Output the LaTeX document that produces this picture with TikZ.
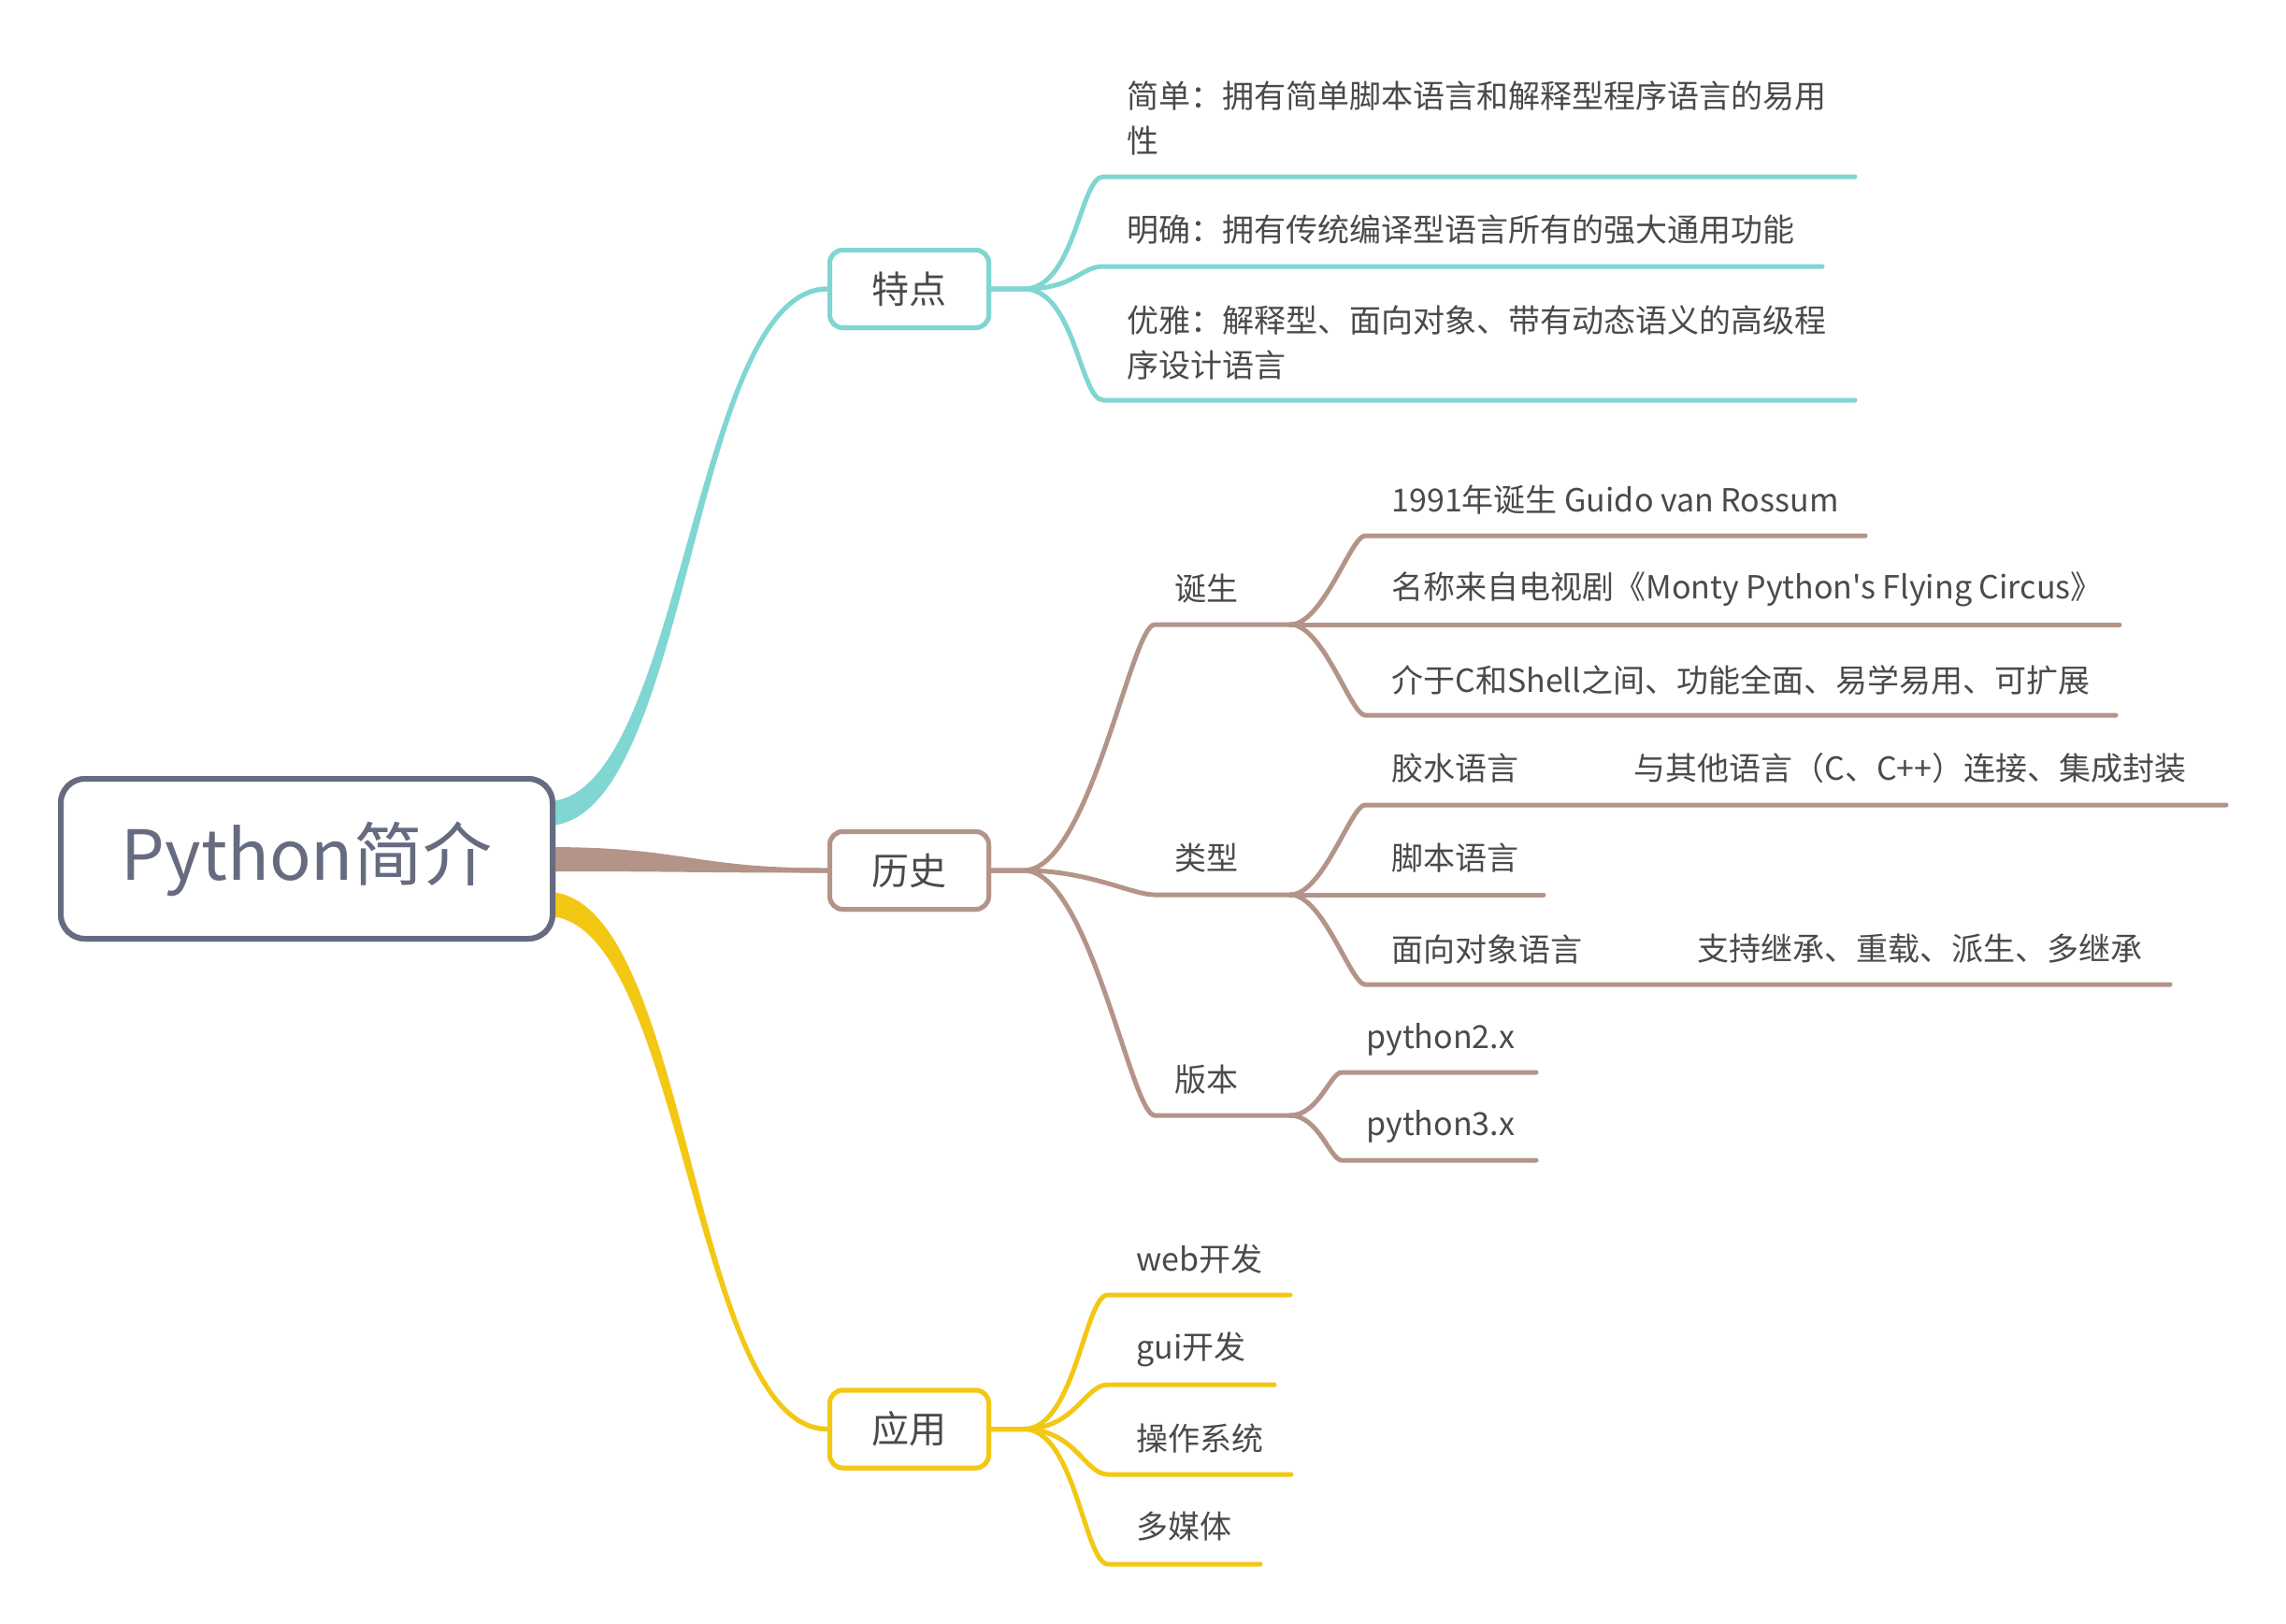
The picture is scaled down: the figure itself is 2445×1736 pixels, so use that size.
\documentclass[tikz,border=0pt]{standalone}
\usepackage{fontspec}
\newfontfamily\cjk{Noto Sans CJK SC}
\usetikzlibrary{calc}
\definecolor{tealc}{RGB}{127,214,210}
\definecolor{brownc}{RGB}{180,148,137}
\definecolor{yellowc}{RGB}{243,200,20}
\definecolor{rootc}{RGB}{103,107,128}
\definecolor{txt}{RGB}{74,74,74}
\begin{document}
\begin{tikzpicture}[x=0.5pt,y=-0.5pt,
  rootbox/.style={draw=rootc, line width=3pt, rounded corners=13pt, fill=white,
    minimum width=263pt, minimum height=85.5pt, inner sep=0pt, text=rootc,
    font={\cjk\fontsize{37}{44}\selectfont}},
  topicbox/.style={draw=#1, line width=2.5pt, rounded corners=7pt, fill=white,
    minimum width=85pt, minimum height=41.5pt, inner sep=0pt, text=txt,
    font={\cjk\fontsize{20}{24}\selectfont}},
  leaf/.style={anchor=west, inner sep=0pt, text=txt, align=left,
    font={\cjk\fontsize{17}{24}\selectfont}},
  br/.style={draw=#1, line width=2.5pt, line cap=round},
  taper/.style={fill=#1}
]
\fill[white] (0,0) rectangle (2445,1736);
\useasboundingbox (0,0) rectangle (2445,1736);

% main boxes (placed first for anchors, redrawn on top later)
\path (328,918.5) node[rootbox] (root) {\phantom{Python简介}};
\path (972.5,309) node[topicbox=tealc] (td) {\phantom{特点}};
\path (972.5,931) node[topicbox=brownc] (ls) {\phantom{历史}};
\path (972.5,1528.5) node[topicbox=yellowc] (yy) {\phantom{应用}};

% root connectors
\fill[taper=tealc] (585,857) .. controls +(145,0) and +(-146,0) .. ($(td.west)+(0,-2.5)$)
  -- ($(td.west)+(0,2.5)$) .. controls +(-146,0) and +(155,0) .. (585,883) -- cycle;
\draw[br=tealc] (585,870) .. controls +(150,0) and +(-146,0) .. (td.west);

\fill[taper=brownc] (585,906) .. controls +(150,0) and +(-146,0) .. ($(ls.west)+(0,-2.5)$)
  -- ($(ls.west)+(0,2.5)$) .. controls +(-146,0) and +(150,0) .. (585,932) -- cycle;
\draw[br=brownc] (585,919) .. controls +(150,0) and +(-146,0) .. (ls.west);

\fill[taper=yellowc] (585,954) .. controls +(155,0) and +(-146,0) .. ($(yy.west)+(0,-2.5)$)
  -- ($(yy.west)+(0,2.5)$) .. controls +(-146,0) and +(145,0) .. (585,980) -- cycle;
\draw[br=yellowc] (585,967) .. controls +(150,0) and +(-146,0) .. (yy.west);

% boxes on top
\node[rootbox] at (root.center) {Python简介};
\node[topicbox=tealc] at (td.center) {特点};
\node[topicbox=brownc] at (ls.center) {历史};
\node[topicbox=yellowc] at (yy.center) {应用};

% ---- 特点 branch
\coordinate (tdS) at (1095,309);
\coordinate (ta) at (1180,189); \coordinate (tae) at (1984,189);
\coordinate (tb) at (1180,285); \coordinate (tbe) at (1949,285);
\coordinate (tc) at (1180,428); \coordinate (tce) at (1984,428);
\draw[br=tealc] (td.east) -- (tdS) .. controls +(55,0) and +(-25,0) .. (ta) -- (tae);
\draw[br=tealc] (td.east) -- (tdS) .. controls +(55,0) and +(-25,0) .. (tb) -- (tbe);
\draw[br=tealc] (td.east) -- (tdS) .. controls +(55,0) and +(-25,0) .. (tc) -- (tce);
\node[leaf] (t1) at (1205,126) {简单：拥有简单脚本语言和解释型程序语言的易用\\性};
\node[leaf] (t2) at (1205,246) {明确：拥有传统编译型语言所有的强大通用功能};
\node[leaf] (t3) at (1205,366.5) {优雅：解释型、面向对象、带有动态语义的高级程\\序设计语言};

% ---- 历史 branch
\coordinate (lsS) at (1095,931);
\coordinate (d0) at (1235,668); \coordinate (d1) at (1380,668);
\coordinate (x0) at (1235,957); \coordinate (x1) at (1380,957);
\coordinate (v0) at (1235,1193); \coordinate (v1) at (1380,1193);
\draw[br=brownc] (ls.east) -- (lsS) .. controls +(70,0) and +(-25,0) .. (d0) -- (d1);
\draw[br=brownc] (ls.east) -- (lsS) .. controls +(70,0) and +(-25,0) .. (x0) -- (x1);
\draw[br=brownc] (ls.east) -- (lsS) .. controls +(70,0) and +(-25,0) .. (v0) -- (v1);
\node[leaf] (dan) at (1256,630) {诞生};
\node[leaf] (lei) at (1256,918) {类型};
\node[leaf] (ban) at (1256,1155) {版本};

% 诞生 children
\coordinate (da) at (1460,573); \coordinate (dae) at (1995,573);
\coordinate (dbe) at (2267,668);
\coordinate (dc) at (1460,765); \coordinate (dce) at (2263,765);
\draw[br=brownc] (d1) .. controls +(35,0) and +(-15,0) .. (da) -- (dae);
\draw[br=brownc] (d1) -- (dbe);
\draw[br=brownc] (d1) .. controls +(35,0) and +(-15,0) .. (dc) -- (dce);
\node[leaf] (d1t) at (1488,535) {1991年诞生 Guido van Rossum};
\node[leaf] (d2t) at (1488,630) {名称来自电视剧《Monty Python's Flying Circus》};
\node[leaf] (d3t) at (1488,727) {介于C和Shell之间、功能全面、易学易用、可扩展};

% 类型 children
\coordinate (xa) at (1460,861); \coordinate (xae) at (2381,861);
\coordinate (xbe) at (1651,957);
\coordinate (xc) at (1460,1053); \coordinate (xce) at (2321,1053);
\draw[br=brownc] (x1) .. controls +(35,0) and +(-15,0) .. (xa) -- (xae);
\draw[br=brownc] (x1) -- (xbe);
\draw[br=brownc] (x1) .. controls +(35,0) and +(-15,0) .. (xc) -- (xce);
\node[leaf] (x1t) at (1488,822) {胶水语言};
\node[leaf] (x1s) at (1747,822) {与其他语言（C、C++）连接、集成封装};
\node[leaf] (x2t) at (1488,918) {脚本语言};
\node[leaf] (x3t) at (1488,1015) {面向对象语言};
\node[leaf] (x3s) at (1815,1015) {支持继承、重载、派生、多继承};

% 版本 children
\coordinate (va) at (1435,1147); \coordinate (vae) at (1643,1147);
\coordinate (vb) at (1435,1241); \coordinate (vbe) at (1643,1241);
\draw[br=brownc] (v1) .. controls +(30,0) and +(-12,0) .. (va) -- (vae);
\draw[br=brownc] (v1) .. controls +(30,0) and +(-12,0) .. (vb) -- (vbe);
\node[leaf] (v1t) at (1461,1112) {python2.x};
\node[leaf] (v2t) at (1461,1205) {python3.x};

% ---- 应用 branch
\coordinate (yyS) at (1095,1528.5);
\coordinate (ya) at (1185,1385); \coordinate (yae) at (1380,1385);
\coordinate (yb) at (1185,1481); \coordinate (ybe) at (1363,1481);
\coordinate (yc) at (1185,1577); \coordinate (yce) at (1381,1577);
\coordinate (yd) at (1185,1673); \coordinate (yde) at (1348,1673);
\draw[br=yellowc] (yy.east) -- (yyS) .. controls +(55,0) and +(-25,0) .. (ya) -- (yae);
\draw[br=yellowc] (yy.east) -- (yyS) .. controls +(55,0) and +(-25,0) .. (yb) -- (ybe);
\draw[br=yellowc] (yy.east) -- (yyS) .. controls +(55,0) and +(-25,0) .. (yc) -- (yce);
\draw[br=yellowc] (yy.east) -- (yyS) .. controls +(55,0) and +(-25,0) .. (yd) -- (yde);
\node[leaf] (y1t) at (1215,1347) {web开发};
\node[leaf] (y2t) at (1215,1443) {gui开发};
\node[leaf] (y3t) at (1215,1538) {操作系统};
\node[leaf] (y4t) at (1215,1633) {多媒体};
\end{tikzpicture}
\end{document}
